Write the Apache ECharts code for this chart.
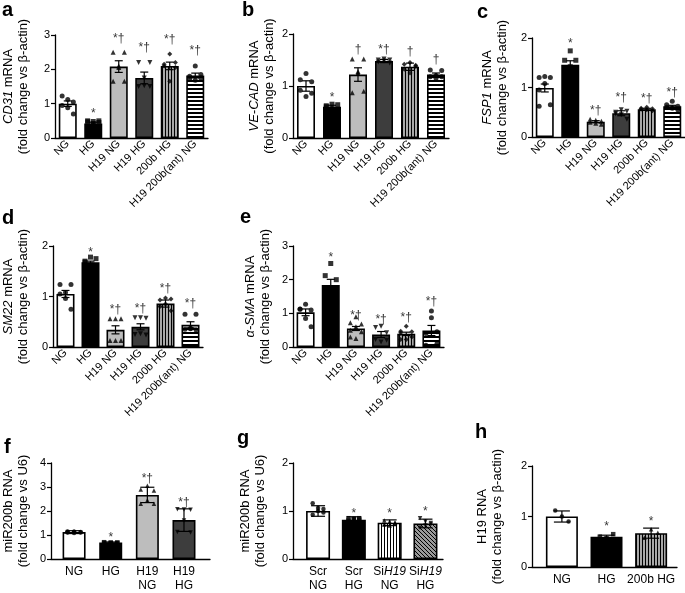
<!DOCTYPE html>
<html>
<head>
<meta charset="utf-8">
<script src="https://cdn.jsdelivr.net/npm/echarts@6/dist/echarts.min.js"></script>
<style>
  html, body { margin: 0; padding: 0; background: #fff; }
  #main { width: 685px; height: 593px; }
</style>
</head>
<body>
<div id="main"></div>
<script>
// categories
const catsMRNA = ['NG', 'HG', 'H19 NG', 'H19 HG', '200b HG', 'H19 200b(ant) NG'];
const catsF = ['NG', 'HG', 'H19\nNG', 'H19\nHG'];
const catsG = ['Scr\nNG', 'Scr\nHG', 'Si{i|H19}\nNG', 'Si{i|H19}\nHG'];
const catsH = ['NG', 'HG', '200b HG'];

// a - CD31
const aMean = [1.0, 0.42, 2.08, 1.75, 2.1, 1.82];
const aErr = [0.08, 0.04, 0.17, 0.17, 0.11, 0.07];
const aPts = [
  [1.22, 1.12, 1.05, 0.95, 0.88, 0.7],
  [0.5, 0.48, 0.5, 0.47, 0.42, 0.45],
  [2.5, 2.05, 2.5, 1.65, 2.1, 1.65],
  [2.2, 1.75, 2.2, 1.5, 1.52, 1.5],
  [2.15, 2.45, 2.05, 2.1, 1.65, 2.2],
  [1.8, 2.1, 1.75, 1.72, 1.68, 1.85]
];
const aMarks = ['', '*', '*†', '*†', '*†', '*†'];
const aMarkY = [0, 0.7, 2.9, 2.63, 2.85, 2.53];

// b - VE-CAD
const bMean = [1.0, 0.6, 1.22, 1.48, 1.37, 1.22];
const bErr = [0.1, 0.03, 0.13, 0.03, 0.07, 0.03];
const bPts = [
  [1.12, 1.24, 1.08, 0.92, 0.8, 0.86],
  [0.62, 0.65, 0.64, 0.6, 0.56, 0.55],
  [1.52, 1.28, 1.52, 0.87, 1.25, 0.9],
  [1.5, 1.52, 1.5, 1.46, 1.48, 1.44],
  [1.42, 1.45, 1.4, 1.32, 1.25, 1.38],
  [1.31, 1.2, 1.3, 1.18, 1.15, 1.18]
];
const bMarks = ['', '*', '†', '*†', '†', '†'];
const bMarkY = [0, 0.77, 1.7, 1.7, 1.66, 1.5];

// c - FSP1
const cMean = [0.99, 1.46, 0.31, 0.48, 0.56, 0.62];
const cErr = [0.08, 0.08, 0.02, 0.05, 0.02, 0.02];
const cPts = [
  [1.2, 1.22, 1.2, 0.62, 1.08, 0.65, 0.95],
  [1.55, 1.74, 1.55, 1.35, 1.42, 1.2],
  [0.36, 0.34, 0.32, 0.3, 0.28, 0.26],
  [0.5, 0.55, 0.52, 0.47, 0.45, 0.36],
  [0.58, 0.6, 0.57, 0.56, 0.55, 0.53],
  [0.65, 0.72, 0.62, 0.6, 0.58, 0.55]
];
const cMarks = ['', '*', '*†', '*†', '*†', '*†'];
const cMarkY = [0, 1.89, 0.54, 0.8, 0.77, 0.89];

// d - SM22
const dMean = [1.05, 1.68, 0.34, 0.4, 0.86, 0.44];
const dErr = [0.07, 0.02, 0.08, 0.06, 0.07, 0.06];
const dPts = [
  [1.24, 1.08, 1.24, 1.05, 0.96, 0.75],
  [1.7, 1.78, 1.75, 1.68, 1.62, 1.6],
  [0.56, 0.56, 0.56, 0.13, 0.13, 0.13],
  [0.58, 0.58, 0.57, 0.25, 0.26, 0.24],
  [0.93, 0.97, 0.95, 0.8, 0.85, 0.72],
  [0.65, 0.36, 0.65, 0.35, 0.37, 0.34]
];
const dMarks = ['', '*', '*†', '*†', '*†', '*†'];
const dMarkY = [0, 1.87, 0.73, 0.76, 1.16, 0.86];

// e - alpha-SMA
const eMean = [1.03, 1.84, 0.55, 0.37, 0.39, 0.49];
const eErr = [0.1, 0.17, 0.06, 0.09, 0.05, 0.15];
const ePts = [
  [1.13, 1.27, 1.1, 1.12, 0.85, 0.6],
  [2.12, 2.48, 2.0, 1.6, 1.5, 1.35],
  [0.72, 0.9, 0.68, 0.5, 0.6, 0.45, 0.3, 0.25],
  [0.58, 0.62, 0.42, 0.22, 0.15, 0.2],
  [0.47, 0.62, 0.45, 0.42, 0.22, 0.3, 0.22],
  [0.4, 1.07, 0.45, 0.05, 0.87, 0.1]
];
const eMarks = ['', '*', '*†', '*†', '*†', '*†'];
const eMarkY = [0, 2.66, 0.94, 0.81, 0.87, 1.34];

// f - miR200b
const fMean = [1.12, 0.69, 2.67, 1.62];
const fErr = [0.06, 0.02, 0.32, 0.47];
const fPts = [
  [1.12, 1.14, 1.1, 1.15, 1.08, 1.12, 1.1, 1.14],
  [0.7, 0.69, 0.68, 0.67, 0.66, 0.68],
  [2.9, 3.05, 2.85, 2.3, 2.45, 2.3],
  [2.07, 2.06, 2.05, 1.12, 1.6, 1.1]
];
const fMarks = ['', '*', '*†', '*†'];
const fMarkY = [0, 0.9, 3.35, 2.36];

// g - miR200b, siRNA
const gMean = [1.0, 0.82, 0.755, 0.74];
const gErr = [0.11, 0.06, 0.06, 0.09];
const gPts = [
  [1.16, 1.06, 0.97, 0.92, 1.0, 1.04],
  [0.85, 0.84, 0.82, 0.8, 0.83, 0.85],
  [0.8, 0.78, 0.75, 0.72, 0.7, 0.76],
  [0.85, 0.78, 0.72, 0.65, 0.7, 0.75]
];
const gMarks = ['', '*', '*', '*'];
const gMarkY = [0, 0.95, 0.95, 0.98];

// h - H19
const hMean = [1.0, 0.6, 0.67];
const hErr = [0.11, 0.03, 0.1];
const hPts = [
  [1.12, 1.0, 0.9],
  [0.6, 0.57, 0.65],
  [0.58, 0.75, 0.68]
];
const hMarks = ['', '*', '*'];
const hMarkY = [0, 0.79, 0.9];

const FONT = 'Liberation Sans, Arial, sans-serif';

// hatch fills drawn on tiny canvases
function pattern(w, h, bg, dots) {
  const c = document.createElement('canvas');
  c.width = w; c.height = h;
  const ctx = c.getContext('2d');
  ctx.fillStyle = bg;
  ctx.fillRect(0, 0, w, h);
  ctx.fillStyle = '#000';
  dots.forEach(d => ctx.fillRect(d[0], d[1], d[2], d[3]));
  return { image: c, repeat: 'repeat' };
}
const vGray = pattern(3, 1, '#a8a8a8', [[0, 0, 1, 1]]);
const vWhite = pattern(3, 1, '#ffffff', [[0, 0, 1, 1]]);
const hBW = pattern(1, 4, '#ffffff', [[0, 0, 1, 2]]);
const dGray = pattern(4, 4, '#9a9a9a', [[0, 0, 1, 1], [1, 1, 1, 1], [2, 2, 1, 1], [3, 3, 1, 1]]);

const fillsMRNA = ['#fff', '#000', '#bdbdbd', '#3d3d3d', vGray, hBW];
const invTri = 'path://M0,0L10,0L5,9Z';
const symsMRNA = ['circle', 'rect', 'triangle', invTri, 'diamond', 'circle'];

const panels = [
  { letter: 'a', lx: 2, ly: 0, grid: { left: 52, top: 35, width: 156, height: 103 }, cats: catsMRNA, mean: aMean, err: aErr, pts: aPts, marks: aMarks, markY: aMarkY, ymax: 3, name: '{i|CD31} mRNA\n(fold change vs β-actin)', gap: 24, fills: fillsMRNA, syms: symsMRNA, xmin: -0.5, xmax: 5.5, barW: 18, cap: 8, rot: 45, cols: 3, step: 0.22, sym: 5 },
  { letter: 'b', lx: 242, ly: 0, grid: { left: 293, top: 34, width: 156, height: 104 }, cats: catsMRNA, mean: bMean, err: bErr, pts: bPts, marks: bMarks, markY: bMarkY, ymax: 2, name: '{i|VE-CAD} mRNA\n(fold change vs β-actin)', gap: 16, fills: fillsMRNA, syms: symsMRNA, xmin: -0.5, xmax: 5.5, barW: 18, cap: 8, rot: 45, cols: 3, step: 0.22, sym: 5 },
  { letter: 'c', lx: 477, ly: 2, grid: { left: 532, top: 38, width: 153, height: 99 }, cats: catsMRNA, mean: cMean, err: cErr, pts: cPts, marks: cMarks, markY: cMarkY, ymax: 2, name: '{i|FSP1} mRNA\n(fold change vs β-actin)', gap: 22, fills: fillsMRNA, syms: symsMRNA, xmin: -0.5, xmax: 5.5, barW: 18, cap: 8, rot: 45, cols: 3, step: 0.22, sym: 5 },
  { letter: 'd', lx: 2, ly: 208, grid: { left: 51, top: 246, width: 152, height: 101 }, cats: catsMRNA, mean: dMean, err: dErr, pts: dPts, marks: dMarks, markY: dMarkY, ymax: 2, name: '{i|SM22} mRNA\n(fold change vs β-actin)', gap: 22, fills: fillsMRNA, syms: symsMRNA, xmin: -0.5, xmax: 5.5, barW: 18, cap: 8, rot: 45, cols: 3, step: 0.22, sym: 5 },
  { letter: 'e', lx: 240, ly: 207, grid: { left: 293, top: 246, width: 151, height: 101 }, cats: catsMRNA, mean: eMean, err: eErr, pts: ePts, marks: eMarks, markY: eMarkY, ymax: 3, name: '{i|α-SMA} mRNA\n(fold change vs β-actin)', gap: 20, fills: fillsMRNA, syms: symsMRNA, xmin: -0.5, xmax: 5.5, barW: 18, cap: 8, rot: 45, cols: 3, step: 0.22, sym: 5 },
  { letter: 'f', lx: 4, ly: 437, grid: { left: 51, top: 463, width: 159, height: 104 }, cats: catsF, mean: fMean, err: fErr, pts: fPts, marks: fMarks, markY: fMarkY, ymax: 4, name: 'miR200b RNA\n(fold change vs U6)', gap: 20, fills: ['#fff', '#000', '#bdbdbd', '#3d3d3d'], syms: ['circle', 'rect', 'triangle', invTri], xmin: -0.63, xmax: 3.71, barW: 23, cap: 14, rot: 0, cols: 3, step: 0.18, sym: 4.5 },
  { letter: 'g', lx: 237, ly: 428, grid: { left: 293, top: 463, width: 150, height: 104 }, cats: catsG, mean: gMean, err: gErr, pts: gPts, marks: gMarks, markY: gMarkY, ymax: 2, name: 'miR200b RNA\n(fold change vs U6)', gap: 25, fills: ['#fff', '#000', vWhite, dGray], syms: ['circle', 'rect', 'triangle', invTri], xmin: -0.7, xmax: 3.49, barW: 24, cap: 14, rot: 0, cols: 3, step: 0.15, sym: 4.5 },
  { letter: 'h', lx: 475, ly: 422, grid: { left: 532, top: 466, width: 145, height: 101 }, cats: catsH, mean: hMean, err: hErr, pts: hPts, marks: hMarks, markY: hMarkY, ymax: 2, name: 'H19 RNA\n(fold change vs β-actin)', gap: 27, fills: ['#fff', '#000', vGray], syms: ['circle', 'rect', 'triangle'], xmin: -0.67, xmax: 2.58, barW: 32, cap: 16, rot: 0, cols: 3, step: 0.15, sym: 4.5 }
];

const option = {
  animation: false,
  backgroundColor: '#fff',
  textStyle: { fontFamily: FONT },
  title: [], grid: [], xAxis: [], yAxis: [], series: []
};

const axisLine = { show: true, onZero: false, lineStyle: { color: '#000', width: 1.3 } };

panels.forEach((p, k) => {
  option.title.push({
    text: p.letter, left: p.lx, top: p.ly, padding: 0,
    textStyle: { fontFamily: FONT, fontSize: 20, fontWeight: 'bold', color: '#000' }
  });
  option.grid.push(Object.assign({ containLabel: false }, p.grid));
  option.xAxis.push({
    type: 'value', gridIndex: k, min: p.xmin, max: p.xmax,
    axisLine: axisLine, axisTick: { show: false }, splitLine: { show: false },
    axisLabel: {
      customValues: p.cats.map((c, i) => i),
      formatter: v => p.cats[Math.round(v)],
      rotate: p.rot, margin: p.rot ? 4 : 6,
      color: '#000', fontFamily: FONT, fontSize: p.rot ? 11 : 12, lineHeight: 14,
      rich: { i: { fontStyle: 'italic', fontFamily: FONT, fontSize: 12, lineHeight: 14 } }
    }
  });
  option.yAxis.push({
    type: 'value', gridIndex: k, min: 0, max: p.ymax, interval: 1,
    axisLine: axisLine,
    axisTick: { show: true, length: 4, lineStyle: { color: '#000', width: 1.2 } },
    splitLine: { show: false },
    axisLabel: { color: '#000', fontFamily: FONT, fontSize: 11, margin: 5 },
    name: p.name, nameLocation: 'middle', nameGap: p.gap, nameRotate: 90,
    nameTextStyle: {
      color: '#000', fontFamily: FONT, fontSize: 13, lineHeight: 15,
      rich: { i: { fontStyle: 'italic', fontFamily: FONT, fontSize: 13, lineHeight: 15 } }
    }
  });
  // bars
  option.series.push({
    type: 'bar', xAxisIndex: k, yAxisIndex: k, barWidth: p.barW, z: 1,
    itemStyle: { borderColor: '#000', borderWidth: 1.6 },
    data: p.mean.map((m, i) => ({ value: [i, m], itemStyle: { color: p.fills[i] } }))
  });
  // individual points
  p.pts.forEach((vals, i) => {
    option.series.push({
      type: 'scatter', xAxisIndex: k, yAxisIndex: k, z: 3,
      symbol: p.syms[i], symbolSize: p.sym,
      itemStyle: { color: '#000' },
      data: vals.map((v, j) => [i + ((j % p.cols) - (p.cols - 1) / 2) * p.step, v])
    });
  });
  // error bars
  option.series.push({
    type: 'custom', xAxisIndex: k, yAxisIndex: k, z: 4, clip: false,
    data: p.mean.map((m, i) => [i, m, p.err[i]]),
    renderItem: function (params, api) {
      const x = api.value(0), m = api.value(1), e = api.value(2);
      const t = api.coord([x, m + e]);
      const b = api.coord([x, m - e]);
      const h = p.cap / 2;
      const st = { stroke: '#000', lineWidth: 1.2 };
      return {
        type: 'group', children: [
          { type: 'line', shape: { x1: t[0], y1: t[1], x2: b[0], y2: b[1] }, style: st },
          { type: 'line', shape: { x1: t[0] - h, y1: t[1], x2: t[0] + h, y2: t[1] }, style: st },
          { type: 'line', shape: { x1: b[0] - h, y1: b[1], x2: b[0] + h, y2: b[1] }, style: st }
        ]
      };
    }
  });
  // significance marks
  option.series.push({
    type: 'scatter', xAxisIndex: k, yAxisIndex: k, z: 5,
    symbolSize: 1, itemStyle: { color: 'transparent' },
    label: { show: true, position: 'inside', color: '#000', fontFamily: FONT, fontSize: 12, formatter: d => d.data.txt },
    data: p.marks.map((t, i) => ({ value: [i, p.markY[i]], txt: t })).filter(d => d.txt)
  });
});

const chart = echarts.init(document.getElementById('main'), null, { renderer: 'canvas' });
chart.setOption(option);
</script>
</body>
</html>
